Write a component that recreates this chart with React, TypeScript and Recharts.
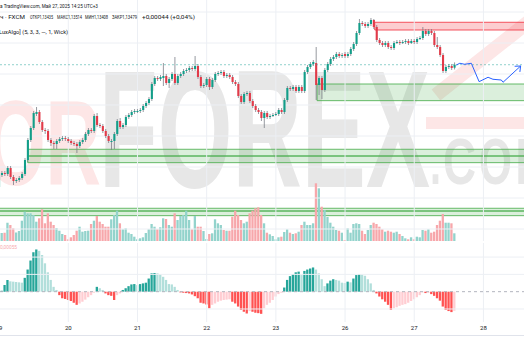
import React from 'react';
import { ComposedChart, Bar, Line, XAxis, YAxis, ReferenceLine, ReferenceArea, Cell } from 'recharts';

// ---------- DATA (hourly candles, 19 May 00:00 -> 27 May 14:00, weekend skipped) ----------
const OPEN = [
  1.11645, 1.11825, 1.11855, 1.1184, 1.1193, 1.11795, 1.11735, 1.1175, 1.1178, 1.1184,
  1.1205, 1.1235, 1.1253, 1.1274, 1.1277, 1.1262, 1.125, 1.12485, 1.1235, 1.12305,
  1.1229, 1.12335, 1.12365, 1.1238, 1.12365, 1.12335, 1.12305, 1.1229, 1.1226, 1.1232,
  1.1235, 1.1244, 1.125, 1.12485, 1.1271, 1.12575, 1.1256, 1.12485, 1.1241, 1.1232,
  1.12335, 1.1244, 1.12635, 1.12545, 1.12575, 1.12695, 1.12725, 1.1277, 1.1277, 1.12785,
  1.128, 1.1286, 1.12905, 1.12965, 1.1319, 1.1328, 1.13265, 1.1328, 1.1331, 1.13205,
  1.13265, 1.1334, 1.13205, 1.1331, 1.1334, 1.13385, 1.134, 1.1343, 1.13415, 1.1346,
  1.13295, 1.1316, 1.13175, 1.13265, 1.13145, 1.1325, 1.1334, 1.13355, 1.1337, 1.1331,
  1.13325, 1.13295, 1.1322, 1.1319, 1.1301, 1.1292, 1.1304, 1.13055, 1.12935, 1.1286,
  1.128, 1.1277, 1.1268, 1.12755, 1.12695, 1.1271, 1.12725, 1.1274, 1.128, 1.1277,
  1.1295, 1.1313, 1.13115, 1.13145, 1.13085, 1.13145, 1.13085, 1.1337, 1.13445, 1.1349,
  1.13505, 1.13175, 1.1328, 1.131, 1.134, 1.1349, 1.13565, 1.13595, 1.1364, 1.1361,
  1.1364, 1.1361, 1.1364, 1.13715, 1.1379, 1.13955, 1.14105, 1.1409, 1.1406, 1.1409,
  1.1415, 1.14045, 1.1385, 1.13805, 1.13775, 1.13805, 1.13745, 1.1373, 1.13805, 1.1382,
  1.13805, 1.1382, 1.13835, 1.13805, 1.13835, 1.1382, 1.13865, 1.1388, 1.13985, 1.1394,
  1.13985, 1.13955, 1.13775, 1.13745, 1.13625, 1.13385, 1.13445, 1.1346, 1.13435,
];
const HIGH = [
  1.11855, 1.11885, 1.11885, 1.1196, 1.1196, 1.11825, 1.1178, 1.1181, 1.1187, 1.1208,
  1.1238, 1.1256, 1.12785, 1.12845, 1.128, 1.1265, 1.1253, 1.12515, 1.1238, 1.12335,
  1.12365, 1.12395, 1.1241, 1.1241, 1.12395, 1.12365, 1.12335, 1.1232, 1.1235, 1.1238,
  1.1247, 1.1253, 1.1253, 1.1274, 1.12755, 1.12605, 1.1259, 1.12515, 1.1244, 1.12365,
  1.1247, 1.12665, 1.1268, 1.12605, 1.12725, 1.12755, 1.128, 1.12815, 1.12815, 1.1283,
  1.1289, 1.12935, 1.12995, 1.1322, 1.1331, 1.1331, 1.13325, 1.13505, 1.1334, 1.13295,
  1.1337, 1.13595, 1.1334, 1.1337, 1.13415, 1.1343, 1.1346, 1.1346, 1.1361, 1.1349,
  1.13325, 1.13205, 1.13295, 1.13295, 1.1328, 1.1337, 1.13385, 1.134, 1.134, 1.13355,
  1.13355, 1.13325, 1.1325, 1.1322, 1.1304, 1.1307, 1.13085, 1.13085, 1.12965, 1.1289,
  1.1283, 1.128, 1.12785, 1.12785, 1.1274, 1.12755, 1.1277, 1.1283, 1.1283, 1.1298,
  1.1316, 1.1316, 1.13175, 1.13175, 1.13175, 1.13175, 1.134, 1.13475, 1.1352, 1.1355,
  1.13745, 1.1331, 1.1331, 1.1343, 1.1352, 1.13595, 1.13625, 1.1367, 1.1367, 1.13655,
  1.1367, 1.1367, 1.13745, 1.1382, 1.13985, 1.14165, 1.14135, 1.1412, 1.1412, 1.1418,
  1.14165, 1.14075, 1.1388, 1.13835, 1.13835, 1.13835, 1.13775, 1.13835, 1.1385, 1.1385,
  1.1385, 1.13865, 1.13865, 1.13865, 1.13865, 1.13895, 1.1391, 1.14045, 1.14015, 1.14015,
  1.14015, 1.13985, 1.13895, 1.13775, 1.13655, 1.13475, 1.1349, 1.1349, 1.13514,
];
const LOW = [
  1.11615, 1.11795, 1.1181, 1.1181, 1.11765, 1.11675, 1.11705, 1.1172, 1.1175, 1.1181,
  1.1202, 1.1232, 1.125, 1.1271, 1.1259, 1.1247, 1.1244, 1.1232, 1.1226, 1.12215,
  1.12215, 1.12305, 1.12335, 1.12335, 1.12305, 1.12275, 1.1226, 1.12155, 1.1223, 1.1229,
  1.1232, 1.1241, 1.12455, 1.12455, 1.12545, 1.1253, 1.12455, 1.1238, 1.12305, 1.122,
  1.12215, 1.1241, 1.12515, 1.12515, 1.12545, 1.12665, 1.12695, 1.1274, 1.12755, 1.12755,
  1.1277, 1.1283, 1.12875, 1.12935, 1.1316, 1.13235, 1.13235, 1.1316, 1.13175, 1.1313,
  1.13235, 1.13175, 1.13175, 1.1328, 1.1331, 1.13355, 1.1337, 1.13385, 1.13385, 1.13265,
  1.1313, 1.1313, 1.13145, 1.131, 1.13115, 1.1322, 1.1331, 1.13325, 1.1328, 1.1328,
  1.13265, 1.1319, 1.1316, 1.1298, 1.1289, 1.1289, 1.1301, 1.12905, 1.1283, 1.1277,
  1.1274, 1.12635, 1.1253, 1.12665, 1.12665, 1.12695, 1.1271, 1.1271, 1.1274, 1.1274,
  1.1292, 1.13085, 1.13085, 1.13055, 1.13055, 1.13055, 1.13055, 1.1334, 1.13415, 1.1346,
  1.1295, 1.13025, 1.12965, 1.1307, 1.1337, 1.1346, 1.13535, 1.13565, 1.1358, 1.1358,
  1.1358, 1.1358, 1.1361, 1.13685, 1.1376, 1.13925, 1.1406, 1.1403, 1.1403, 1.1406,
  1.14015, 1.1382, 1.13775, 1.13745, 1.13745, 1.13715, 1.137, 1.137, 1.1379, 1.13775,
  1.1379, 1.1379, 1.13775, 1.1379, 1.1379, 1.1379, 1.1385, 1.1385, 1.1391, 1.1391,
  1.13925, 1.13745, 1.13715, 1.13595, 1.13355, 1.13355, 1.13415, 1.134, 1.13408,
];
const CLOSE = [
  1.11825, 1.11855, 1.1184, 1.1193, 1.11795, 1.11735, 1.1175, 1.1178, 1.1184, 1.1205,
  1.1235, 1.1253, 1.12755, 1.1277, 1.1262, 1.125, 1.12485, 1.1235, 1.12305, 1.1229,
  1.12335, 1.12365, 1.1238, 1.12365, 1.12335, 1.12305, 1.1229, 1.1226, 1.1232, 1.1235,
  1.1244, 1.125, 1.12485, 1.1271, 1.12575, 1.1256, 1.12485, 1.1241, 1.12335, 1.12335,
  1.1244, 1.12635, 1.12545, 1.12575, 1.12695, 1.12725, 1.1277, 1.12785, 1.12785, 1.128,
  1.1286, 1.12905, 1.12965, 1.1319, 1.1328, 1.13265, 1.13295, 1.1331, 1.13205, 1.13265,
  1.1334, 1.13205, 1.1331, 1.1334, 1.13385, 1.134, 1.1343, 1.13415, 1.1346, 1.13295,
  1.1316, 1.13175, 1.13265, 1.13145, 1.1325, 1.1334, 1.13355, 1.1337, 1.1331, 1.13325,
  1.13295, 1.1322, 1.1319, 1.1301, 1.1292, 1.1304, 1.13055, 1.12935, 1.1286, 1.128,
  1.1277, 1.1268, 1.12755, 1.12695, 1.1271, 1.12725, 1.1274, 1.128, 1.1277, 1.1295,
  1.1313, 1.13115, 1.13145, 1.13085, 1.13145, 1.13085, 1.1337, 1.13445, 1.1349, 1.1352,
  1.13175, 1.1328, 1.131, 1.134, 1.1349, 1.13565, 1.13595, 1.1364, 1.1361, 1.13625,
  1.1361, 1.1364, 1.13715, 1.1379, 1.13955, 1.14105, 1.1409, 1.1406, 1.1409, 1.1415,
  1.14045, 1.1385, 1.13805, 1.13775, 1.13805, 1.13745, 1.1373, 1.13805, 1.1382, 1.13805,
  1.1382, 1.13835, 1.13805, 1.13835, 1.1382, 1.13865, 1.1388, 1.13985, 1.1394, 1.13985,
  1.13955, 1.13775, 1.13745, 1.13625, 1.13385, 1.13445, 1.1346, 1.1343, 1.13479,
];
const VOLUME = [
  770, 800, 830, 1830, 1600, 1270, 850, 1000, 2030, 2930,
  2770, 2770, 2600, 1930, 2270, 3170, 1770, 2770, 1930, 1600,
  1300, 1030, 700, 600, 170, 370, 600, 1030, 1430, 930,
  1000, 1030, 1700, 2030, 2500, 1930, 1700, 1430, 1430, 2170,
  2600, 3030, 1770, 1170, 1270, 830, 700, 430, 170, 270,
  370, 800, 1170, 1700, 1430, 1170, 1370, 2270, 2200, 1600,
  1430, 2770, 2100, 2500, 2600, 3030, 2100, 1170, 2500, 1430,
  1430, 1000, 200, 700, 770, 2170, 1770, 1600, 1100, 1030,
  1030, 2430, 3030, 2600, 2100, 1770, 1930, 2770, 3030, 3270,
  3370, 2600, 1770, 830, 670, 500, 170, 370, 430, 900,
  1170, 830, 700, 770, 930, 1600, 1930, 1600, 1600, 1770,
  5770, 5270, 3430, 3100, 2400, 1830, 1430, 1100, 1030, 830,
  100, 1270, 830, 1700, 1770, 1700, 1030, 700, 1100, 1600,
  1830, 1700, 1430, 1170, 930, 1030, 930, 830, 930, 700,
  500, 270, 170, 370, 170, 430, 370, 1100, 1030, 1170,
  830, 930, 1600, 2030, 2700, 1830, 1830, 1770, 770,
];
const MOMENTUM = [
  0.00002, 0.00003, 0.00019, 0.00034, 0.0003, 0.00029, 0.00028, 0.00027, 0.00026, 0.0004,
  0.00064, 0.0009, 0.00114, 0.00122, 0.00118, 0.00106, 0.00082, 0.00056, 0.00034, 0.00014,
  0.00005, -0.0001, -0.00019, -0.00021, -0.00024, -0.00027, -0.00032, -0.00038, -0.00034, -0.00029,
  -0.00023, -0.00016, -0.0001, -0.00003, 0.00014, 0.0001, 0.00005, -0.00005, -0.0001, -0.00012,
  -0.00024, -0.0001, -0.00005, 0.00005, 0.0001, 0.00016, 0.00021, 0.00022, 0.00019, 0.00022,
  0.00024, 0.00026, 0.00038, 0.00053, 0.00054, 0.00053, 0.0005, 0.00043, 0.00034, 0.00022,
  0.00021, 0.00014, 0.00005, -0.00002, -0.00003, -0.00004, -0.00005, -0.00008, -0.00013, -0.00019,
  -0.00032, -0.00034, -0.00037, -0.00048, -0.00038, -0.00034, -0.00029, -0.00026, -0.00024, -0.00023,
  -0.00022, -0.00029, -0.00034, -0.00043, -0.00053, -0.00058, -0.00063, -0.00056, -0.00058, -0.00061,
  -0.00062, -0.00064, -0.00048, -0.00038, -0.00032, -0.00024, -0.00014, -0.00007, -0.00003, 0.00012,
  0.00034, 0.00045, 0.00051, 0.00056, 0.00058, 0.00048, 0.0006, 0.00064, 0.00067, 0.0007,
  0.00064, 0.00053, 0.00036, 0.00016, 0.00024, 0.00032, 0.00036, 0.00034, 0.00032, 0.00026,
  0.00025, 0.00029, 0.00027, 0.00038, 0.00048, 0.00051, 0.0005, 0.00046, 0.00036, 0.00024,
  0.00005, -0.00005, -0.00014, -0.00022, -0.00029, -0.00038, -0.00053, -0.00048, -0.00045, -0.00041,
  -0.00038, -0.00036, -0.00032, -0.00027, -0.00022, -0.00016, -0.0001, -0.00002, -0.00004, -0.00003,
  -0.00007, -0.00012, -0.00019, -0.00026, -0.00043, -0.00053, -0.00056, -0.00059, -0.00055,
];

const DAY_TICKS = [0, 24, 48, 72, 96, 120, 144, 168];
const DAY_LABELS = ['19', '20', '21', '22', '23', '26', '27', '28'];
const PRICE_GRID = [1.1427, 1.13805, 1.1334, 1.12875, 1.1241, 1.11945, 1.1148, 1.11015];
const MOM_GRID = [0.001, 0.0005, -0.0005];

const FORECAST_I = [158.6, 159.8, 161.5, 163.8, 166.5, 169.6, 171.3, 174.2, 174.8, 180.9];
const FORECAST_P = [1.13475, 1.13501, 1.13486, 1.13501, 1.13225, 1.13291, 1.13261, 1.1325, 1.13216, 1.1346];

const ZONE_FROM = [130.3, 110.3, 9.9, 9.9, -5, -5];
const ZONE_HI = [1.14116, 1.1319, 1.12211, 1.1211, 1.11326, 1.11285];
const ZONE_LO = [1.14, 1.1294, 1.1211, 1.1201, 1.11285, 1.11215];
const ZONE_KIND = ['supply', 'demand', 'demand', 'demand', 'demand', 'demand'];

const WATERMARK_RED = 'FOR';
const WATERMARK_GRAY = 'FOREX';
const WATERMARK_TAIL = ['.', 'C', 'O', 'M'];

// ---------- STYLE ----------
const W = 524;
const TOP_H = 243;
const X_MIN = 0.312;
const X_MAX = 182.07;
const PRICE_MIN = 1.10835;
const PRICE_MAX = 1.1445;
const VOL_MAX = 24100;
const MOM_MIN = -0.000876;
const MOM_MAX = 0.001407;

const UP = '#129e89';
const DOWN = '#e23a49';
const WICK = '#7b7f88';
const VOL_UP = '#93d3cc';
const VOL_DOWN = '#f7a7ab';
const GRID = '#eceff4';
const M_UP_STRONG = '#26a69a';
const M_UP_WEAK = '#b2dfdb';
const M_DN_STRONG = '#ff5252';
const M_DN_WEAK = '#ffcdd2';
const BLUE = '#2962ff';
const FONT = 'Roboto, "Liberation Sans", sans-serif';
const WM_FONT = '"Liberation Sans", Arial, sans-serif';

const rows = OPEN.map((o, i) => ({
  i,
  o,
  h: HIGH[i],
  l: LOW[i],
  c: CLOSE[i],
  v: VOLUME[i],
  m: MOMENTUM[i],
}));
const forecastRows = FORECAST_I.map((i, k) => ({ i, p: FORECAST_P[k] }));

const momColor = (k: number) => {
  const v = MOMENTUM[k];
  const prev = k > 0 ? MOMENTUM[k - 1] : 0;
  if (v >= 0) return v >= prev ? M_UP_STRONG : M_UP_WEAK;
  return v <= prev ? M_DN_STRONG : M_DN_WEAK;
};

function Candle(props: any) {
  const { x, y, width, height } = props;
  const d = props.payload || props;
  if (x == null || y == null || d == null) return <g />;
  const top = Math.min(y, y + height);
  const hh = Math.abs(height);
  const range = d.h - d.l;
  const k = range > 0 ? hh / range : 0;
  const yo = top + (d.h - d.o) * k;
  const yc = top + (d.h - d.c) * k;
  const up = d.c >= d.o;
  const cx = x + width / 2;
  const bt = Math.min(yo, yc);
  const bh = Math.max(Math.abs(yo - yc), 0.9);
  return (
    <g>
      <line x1={cx} x2={cx} y1={top} y2={top + hh} stroke={WICK} strokeWidth={0.8} />
      <rect x={cx - 1.05} y={bt} width={2.1} height={bh} fill={up ? UP : DOWN} />
    </g>
  );
}

const makeArrowDot = () => {
  let prev: { x: number; y: number } | null = null;
  const n = FORECAST_I.length;
  return (p: any) => {
    const { cx, cy, index } = p;
    if (index === n - 2) prev = { x: cx, y: cy };
    if (index !== n - 1 || !prev) return <g key={`ad${index}`} />;
    const ang = Math.atan2(cy - prev.y, cx - prev.x);
    const L = 6;
    const a = 0.7;
    const x1 = cx - L * Math.cos(ang - a);
    const y1 = cy - L * Math.sin(ang - a);
    const x2 = cx - L * Math.cos(ang + a);
    const y2 = cy - L * Math.sin(ang + a);
    return (
      <path
        key={`ad${index}`}
        d={`M${x1},${y1}L${cx},${cy}L${x2},${y2}`}
        stroke={BLUE}
        strokeWidth={1}
        fill="none"
      />
    );
  };
};

function DayTick(props: any) {
  const { x, y, payload } = props;
  const idx = DAY_TICKS.indexOf(payload.value);
  return (
    <text x={x} y={y + 8.2} textAnchor="middle" fontSize={6} fill="#131722" fontFamily={FONT}>
      {DAY_LABELS[idx]}
    </text>
  );
}

const layer: React.CSSProperties = { position: 'absolute', left: 0, top: 0 };
const topMargin = { top: 0, right: 0, bottom: 2, left: 0 };
// letter boxes for the ".COM" tail of the watermark (left edge, width)
const TAIL_X = [430, 443, 479, 515];
const TAIL_W = [11, 33, 33, 42];

export default function App() {
  const arrowDot = makeArrowDot();
  return (
    <div
      style={{
        position: 'absolute',
        left: 0,
        top: 0,
        width: W,
        height: 350,
        background: '#ffffff',
        overflow: 'hidden',
        fontFamily: FONT,
      }}
    >
      {/* watermark */}
      <svg width={W} height={350} style={layer}>
        <text x={-61} y={185} fontSize={120} fontWeight={700} fill="#fde6e6" fontFamily={WM_FONT}
          textLength={162} lengthAdjust="spacingAndGlyphs">{WATERMARK_RED}</text>
        <text x={99} y={187} fontSize={167} fontWeight={700} fill="#e7e7e7" fontFamily={WM_FONT}
          textLength={331} lengthAdjust="spacingAndGlyphs">{WATERMARK_GRAY}</text>
        {WATERMARK_TAIL.map((ch, k) => (
          <text key={`wt${k}`} x={TAIL_X[k]} y={184} fontSize={65} fontWeight={700} fill="#e7e7e7"
            fontFamily={WM_FONT} textLength={TAIL_W[k]} lengthAdjust="spacingAndGlyphs">{ch}</text>
        ))}
        <line x1={436} y1={95} x2={532} y2={19} stroke="#fde6e6" strokeWidth={14} />
        <rect x={426} y={117} width={100} height={12} fill="#fde6e6" />
      </svg>

      {/* grid + volume + zones */}
      <div style={layer}>
        <ComposedChart width={W} height={TOP_H} data={rows} margin={topMargin}>
          <XAxis dataKey="i" type="number" domain={[X_MIN, X_MAX]} allowDataOverflow hide />
          <YAxis type="number" domain={[PRICE_MIN, PRICE_MAX]} allowDataOverflow hide />
          <YAxis yAxisId="v" type="number" domain={[0, VOL_MAX]} allowDataOverflow hide />
          {DAY_TICKS.slice(1).map((d) => (
            <ReferenceLine key={`dx${d}`} x={d} stroke={GRID} strokeWidth={1} />
          ))}
          {PRICE_GRID.map((p) => (
            <ReferenceLine key={`py${p}`} y={p} stroke={GRID} strokeWidth={1} />
          ))}
          <Bar dataKey="v" yAxisId="v" barSize={2.3} isAnimationActive={false}>
            {rows.map((r) => (
              <Cell key={`vc${r.i}`} fill={r.c >= r.o ? VOL_UP : VOL_DOWN} />
            ))}
          </Bar>
          {ZONE_FROM.map((from, k) => {
            const red = ZONE_KIND[k] === 'supply';
            return (
              <ReferenceArea
                key={`z${k}`}
                x1={from}
                x2={X_MAX + 10}
                y1={ZONE_LO[k]}
                y2={ZONE_HI[k]}
                ifOverflow="hidden"
                fill={red ? '#f23645' : '#4caf50'}
                fillOpacity={red ? 0.25 : 0.2}
                stroke={red ? '#f23645' : '#4caf50'}
                strokeOpacity={0.85}
                strokeWidth={1}
              />
            );
          })}
        </ComposedChart>
      </div>

      {/* candles */}
      <div style={layer}>
        <ComposedChart width={W} height={TOP_H} data={rows} margin={topMargin}>
          <XAxis dataKey="i" type="number" domain={[X_MIN, X_MAX]} allowDataOverflow hide />
          <YAxis type="number" domain={[PRICE_MIN, PRICE_MAX]} allowDataOverflow hide />
          <Bar
            dataKey={(d: any) => [d.l, d.h]}
            barSize={2.8}
            isAnimationActive={false}
            shape={(p: any) => <Candle {...p} />}
          />
        </ComposedChart>
      </div>

      {/* price line + forecast */}
      <div style={layer}>
        <ComposedChart width={W} height={TOP_H} data={forecastRows} margin={topMargin}>
          <XAxis dataKey="i" type="number" domain={[X_MIN, X_MAX]} allowDataOverflow hide />
          <YAxis type="number" domain={[PRICE_MIN, PRICE_MAX]} allowDataOverflow hide />
          <ReferenceLine
            y={CLOSE[CLOSE.length - 1]}
            stroke="#26a69a"
            strokeOpacity={0.5}
            strokeDasharray="2 2"
            strokeWidth={1}
          />
          <Line
            type="linear"
            dataKey="p"
            stroke={BLUE}
            strokeWidth={1}
            dot={arrowDot}
            activeDot={false}
            isAnimationActive={false}
          />
        </ComposedChart>
      </div>

      {/* momentum histogram pane */}
      <div style={{ position: 'absolute', left: 0, top: TOP_H }}>
        <ComposedChart width={W} height={107} data={rows} margin={{ top: 0, right: 0, bottom: 14, left: 0 }}>
          <XAxis
            dataKey="i"
            type="number"
            domain={[X_MIN, X_MAX]}
            allowDataOverflow
            ticks={DAY_TICKS}
            interval={0}
            tickLine={false}
            axisLine={false}
            tickSize={0}
            tickMargin={0}
            height={14}
            tick={<DayTick />}
          />
          <YAxis type="number" domain={[MOM_MIN, MOM_MAX]} allowDataOverflow hide />
          {DAY_TICKS.slice(1).map((d) => (
            <ReferenceLine key={`mdx${d}`} x={d} stroke={GRID} strokeWidth={1} />
          ))}
          {MOM_GRID.map((g) => (
            <ReferenceLine key={`mg${g}`} y={g} stroke={GRID} strokeWidth={1} />
          ))}
          <ReferenceLine y={0} stroke="#b2b5be" strokeDasharray="3 3" strokeWidth={1} />
          <Bar dataKey="m" barSize={2.3} isAnimationActive={false}>
            {rows.map((r) => (
              <Cell key={`mc${r.i}`} fill={momColor(r.i)} />
            ))}
          </Bar>
        </ComposedChart>
      </div>

      {/* legend texts */}
      <svg width={W} height={350} style={{ ...layer, pointerEvents: 'none' }}>
        <g fontFamily={FONT} fontSize={5.6} fill="#131722">
          <text x={0} y={7.6} textLength={98} lengthAdjust="spacingAndGlyphs">
            а TradingView.com, Май 27, 2025 14:25 UTC+3
          </text>
          <text x={0} y={19.3} textLength={25} lengthAdjust="spacingAndGlyphs">ч · FXCM</text>
          <text x={30} y={19.3} textLength={23} lengthAdjust="spacingAndGlyphs">ОТКР1,13435</text>
          <text x={57} y={19.3} textLength={25} lengthAdjust="spacingAndGlyphs">МАКС1,13514</text>
          <text x={85} y={19.3} textLength={23} lengthAdjust="spacingAndGlyphs">МИН1,13408</text>
          <text x={112} y={19.3} textLength={25} lengthAdjust="spacingAndGlyphs">ЗАКР1,13479</text>
          <text x={142} y={19.3} textLength={53} lengthAdjust="spacingAndGlyphs">+0,00044 (+0,04%)</text>
          <text x={-1} y={34.3} textLength={69} lengthAdjust="spacingAndGlyphs">
            LuxAlgo] (5, 3, 3, —, 1, Wick)
          </text>
        </g>
        <text x={0} y={248.6} fontFamily={FONT} fontSize={5.2} fill="#f7a9ae" textLength={17}
          lengthAdjust="spacingAndGlyphs">0,00055</text>
        <line x1={0} x2={W} y1={335.5} y2={335.5} stroke="#e0e3eb" strokeWidth={1} />
      </svg>
    </div>
  );
}
